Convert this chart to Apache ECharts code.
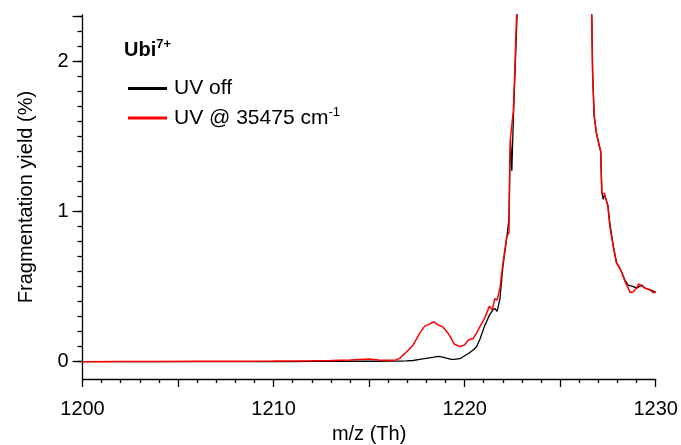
<!DOCTYPE html>
<html>
<head>
<meta charset="utf-8">
<script src="https://cdn.jsdelivr.net/npm/echarts@6/dist/echarts.min.js"></script>
<style>
  html, body { margin: 0; padding: 0; background: #ffffff; }
  #chart { width: 681px; height: 445px; }
</style>
</head>
<body>
<div id="chart"></div>
<script>
// m/z sampling points (Th)
const mz = [
  1200, 1202, 1204, 1206, 1208, 1210, 1211, 1212, 1213, 1214, 1214.5, 1215, 1215.5, 1216,
  1216.4, 1216.6, 1216.95, 1217.3, 1217.65, 1217.9, 1218.15, 1218.4, 1218.6, 1218.85,
  1219.1, 1219.3, 1219.45, 1219.75, 1220.0, 1220.2, 1220.45, 1220.62, 1220.8, 1221.05,
  1221.3, 1221.45, 1221.58, 1221.7, 1221.85, 1222.0, 1222.2, 1222.32, 1222.36, 1222.4,
  1222.47, 1222.55, 1222.63, 1222.72, 1222.85, 1223.0, 1224, 1225, 1226, 1226.5,
  1226.65, 1226.7, 1226.78, 1226.9, 1227.05, 1227.12, 1227.18, 1227.25, 1227.32, 1227.4,
  1227.5, 1227.6, 1227.78, 1227.95, 1228.13, 1228.27, 1228.4, 1228.56, 1228.65, 1228.83,
  1229.0, 1229.1, 1229.27, 1229.44, 1229.7, 1229.87, 1230
];

// Fragmentation yield (%) without UV irradiation
const uvOff = [
  0, 0, 0, 0, 0, 0.001, 0.001, 0.002, 0.002, 0.003, 0.003, 0.003, 0.003, 0.004,
  0.004, 0.004, 0.005, 0.008, 0.015, 0.02, 0.025, 0.03, 0.035, 0.03,
  0.022, 0.016, 0.016, 0.02, 0.04, 0.055, 0.078, 0.10, 0.15, 0.24,
  0.31, 0.34, 0.355, 0.335, 0.42, 0.63, 0.82, 0.95, 1.25, 1.48,
  1.27, 1.62, 1.90, 2.22, 2.7, 3.4, 6.0, 6.0, 4.0, 2.9,
  2.32, 1.92, 1.64, 1.52, 1.44, 1.40, 1.13, 1.08, 1.11, 1.10,
  1.04, 0.92, 0.77, 0.66, 0.62, 0.58, 0.54, 0.51, 0.50, 0.50,
  0.49, 0.50, 0.51, 0.49, 0.48, 0.47, 0.465
];

// Fragmentation yield (%) with UV at 35475 cm-1
const uv35475 = [
  0, 0.002, 0.002, 0.003, 0.003, 0.004, 0.005, 0.006, 0.008, 0.012, 0.015, 0.018, 0.012, 0.01,
  0.012, 0.022, 0.065, 0.11, 0.19, 0.235, 0.25, 0.266, 0.245, 0.233,
  0.195, 0.155, 0.118, 0.10, 0.112, 0.145, 0.155, 0.19, 0.233, 0.29,
  0.37, 0.345, 0.42, 0.41, 0.49, 0.65, 0.83, 0.86, 1.30, 1.49,
  1.49, 1.67, 1.96, 2.31, 2.8, 3.5, 6.2, 6.2, 4.1, 3.0,
  2.31, 1.90, 1.63, 1.52, 1.43, 1.40, 1.12, 1.11, 1.12, 1.11,
  1.03, 0.90, 0.765, 0.655, 0.62, 0.577, 0.532, 0.49, 0.46, 0.466,
  0.49, 0.517, 0.505, 0.49, 0.477, 0.46, 0.46
];

// Tick labels
const xTickLabels = [1200, 1210, 1220, 1230];
const yTickLabels = [0, 1, 2];

const FONT = '"Liberation Sans", Arial, Helvetica, sans-serif';
const X_MIN = 1200, X_MAX = 1230;
const Y_MIN = -0.115, Y_MAX = 2.307;
const Y_TICK_TOP = 2.3;
const AXIS_W = 1.3;

// Plot frame in pixels
const W = 681, H = 445;
const PLOT_LEFT = 82.5, PLOT_RIGHT = 25.3, PLOT_TOP = 15, PLOT_BOTTOM = 66;

// A second, tick-only grid covering 0 .. 2.3 on the same vertical scale,
// so that its ticks count from zero instead of from the plot minimum.
const pxPerUnit = (H - PLOT_TOP - PLOT_BOTTOM) / (Y_MAX - Y_MIN);
const yZeroPx = H - PLOT_BOTTOM - (0 - Y_MIN) * pxPerUnit;
const tickGridTop = yZeroPx - Y_TICK_TOP * pxPerUnit;
const tickGridBottom = H - yZeroPx;

const pairs = (ys) => mz.map((x, i) => [x, ys[i]]);
const xLabel = (v) => xTickLabels.includes(v) ? String(v) : '';
const yLabel = (v) => yTickLabels.includes(v) ? String(v) : '';

const chart = echarts.init(document.getElementById('chart'), null, { renderer: 'canvas' });

chart.setOption({
  animation: false,
  backgroundColor: '#ffffff',
  textStyle: { fontFamily: FONT },
  title: {
    text: '{b|Ubi}{s|7+}',
    left: 124,
    top: 38,
    padding: 0,
    textStyle: {
      rich: {
        b: { fontFamily: FONT, fontSize: 20, fontWeight: 'bold', color: '#000', lineHeight: 24 },
        s: { fontFamily: FONT, fontSize: 13, fontWeight: 'bold', color: '#000', lineHeight: 13, verticalAlign: 'top' }
      }
    }
  },
  legend: {
    orient: 'vertical',
    left: 128,
    top: 78,
    padding: 0,
    itemGap: 7,
    itemWidth: 39,
    itemHeight: 3,
    icon: 'rect',
    data: ['UV off', 'UV @ 35475 cm-1'],
    formatter: (name) => name === 'UV off' ? '{t|UV off}' : '{t|UV @ 35475 cm}{s|-1}',
    textStyle: {
      padding: [0, 0, 0, 2],
      rich: {
        t: { fontFamily: FONT, fontSize: 21, color: '#000', lineHeight: 24 },
        s: { fontFamily: FONT, fontSize: 13, color: '#000', lineHeight: 13, verticalAlign: 'top' }
      }
    }
  },
  grid: [
    { left: PLOT_LEFT, right: PLOT_RIGHT, top: PLOT_TOP, bottom: PLOT_BOTTOM, containLabel: false, outerBoundsMode: 'none' },
    { left: PLOT_LEFT, right: PLOT_RIGHT, top: tickGridTop, bottom: tickGridBottom, containLabel: false, outerBoundsMode: 'none' }
  ],
  xAxis: [
    {
      gridIndex: 0, type: 'value', min: X_MIN, max: X_MAX, interval: 5,
      name: 'm/z (Th)', nameLocation: 'middle', nameGap: 45,
      nameTextStyle: { fontFamily: FONT, fontSize: 20, color: '#000' },
      axisLine: { show: true, onZero: false, lineStyle: { color: '#000', width: AXIS_W } },
      axisTick: { show: true, inside: false, length: 8, lineStyle: { color: '#000', width: AXIS_W } },
      minorTick: { show: true, splitNumber: 5, length: 4, lineStyle: { color: '#000', width: AXIS_W } },
      axisLabel: { show: true, margin: 20, formatter: xLabel, fontFamily: FONT, fontSize: 20, color: '#000' },
      splitLine: { show: false },
      minorSplitLine: { show: false }
    },
    {
      gridIndex: 1, type: 'value', min: X_MIN, max: X_MAX, show: false
    }
  ],
  yAxis: [
    {
      gridIndex: 0, type: 'value', min: Y_MIN, max: Y_MAX, position: 'left',
      name: 'Fragmentation yield (%)', nameLocation: 'middle', nameGap: 46,
      nameTextStyle: { fontFamily: FONT, fontSize: 20, color: '#000' },
      axisLine: { show: true, onZero: false, lineStyle: { color: '#000', width: AXIS_W } },
      axisTick: { show: false },
      axisLabel: { show: false },
      splitLine: { show: false }
    },
    {
      // labelled ticks at whole percents
      gridIndex: 1, type: 'value', min: 0, max: Y_TICK_TOP, interval: 1, position: 'left',
      axisLine: { show: false, onZero: false },
      axisTick: { show: true, inside: false, length: 10, lineStyle: { color: '#000', width: AXIS_W } },
      axisLabel: { show: true, margin: 14, formatter: yLabel, fontFamily: FONT, fontSize: 20, color: '#000' },
      splitLine: { show: false }
    },
    {
      // minor ticks every 0.1 %
      gridIndex: 1, type: 'value', min: 0, max: Y_TICK_TOP, interval: 0.1, position: 'left',
      axisLine: { show: false, onZero: false },
      axisTick: { show: true, inside: false, length: 5, lineStyle: { color: '#000', width: AXIS_W } },
      axisLabel: { show: false },
      splitLine: { show: false }
    }
  ],
  series: [
    {
      name: 'UV off', type: 'line', xAxisIndex: 0, yAxisIndex: 0,
      data: pairs(uvOff), showSymbol: false, clip: true, silent: true,
      itemStyle: { color: '#000000' },
      lineStyle: { color: '#000000', width: 1.3 }
    },
    {
      name: 'UV @ 35475 cm-1', type: 'line', xAxisIndex: 0, yAxisIndex: 0,
      data: pairs(uv35475), showSymbol: false, clip: true, silent: true,
      itemStyle: { color: '#ff0000' },
      lineStyle: { color: '#ff0000', width: 1.5 }
    }
  ]
});
</script>
</body>
</html>
